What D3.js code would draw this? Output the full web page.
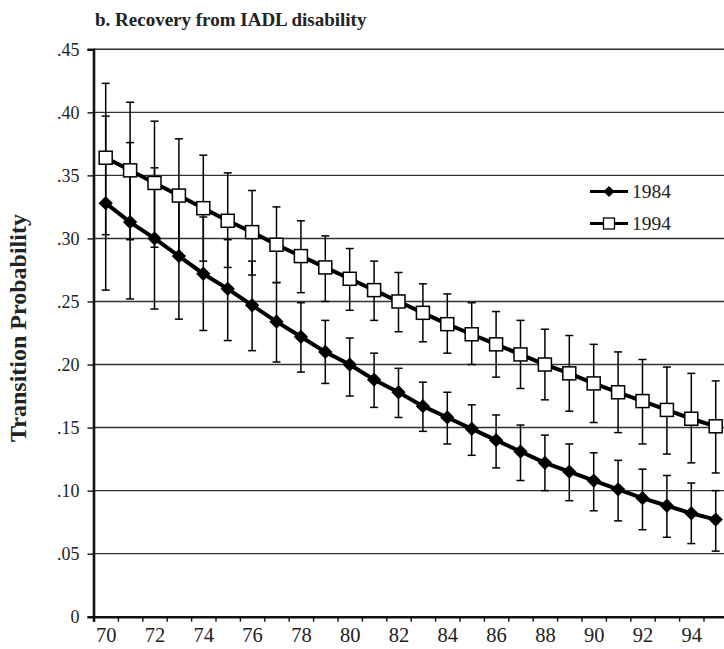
<!DOCTYPE html>
<html>
<head>
<meta charset="utf-8">
<script src="https://cdn.jsdelivr.net/npm/d3@7"></script>
</head>
<body style="margin:0; background:#fff">
<svg id="chart" width="724" height="649"></svg>
<script>
// ages (categories)
var ages = [70, 71, 72, 73, 74, 75, 76, 77, 78, 79, 80, 81, 82, 83, 84, 85, 86, 87, 88, 89, 90, 91, 92, 93, 94, 95];
var xLabels = [70, 72, 74, 76, 78, 80, 82, 84, 86, 88, 90, 92, 94];
var yTicks = [0, .05, .10, .15, .20, .25, .30, .35, .40, .45];
var yLabels = ["0", ".05", ".10", ".15", ".20", ".25", ".30", ".35", ".40", ".45"];

// 1984
var p1984 = [.328, .313, .300, .286, .272, .260, .247, .234, .222, .210, .200, .188, .178, .167, .158, .149, .140, .131, .122, .115, .108, .101, .094, .088, .082, .077];
var lo1984 = [.259, .252, .244, .236, .227, .219, .211, .202, .194, .185, .175, .166, .158, .147, .137, .128, .118, .108, .100, .092, .084, .076, .069, .063, .058, .052];
var hi1984 = [.397, .376, .356, .338, .317, .299, .282, .265, .249, .235, .221, .209, .197, .186, .178, .168, .160, .152, .144, .137, .130, .124, .117, .112, .106, .100];

// 1994
var p1994 = [.364, .354, .344, .334, .324, .314, .305, .295, .286, .277, .268, .259, .250, .241, .232, .224, .216, .208, .200, .193, .185, .178, .171, .164, .157, .151];
var lo1994 = [.303, .299, .293, .288, .282, .277, .271, .265, .257, .250, .243, .235, .226, .218, .209, .200, .190, .181, .172, .163, .154, .146, .137, .129, .122, .114];
var hi1994 = [.423, .408, .393, .379, .366, .352, .338, .325, .314, .302, .292, .282, .273, .264, .256, .249, .242, .235, .228, .223, .216, .210, .204, .198, .193, .187];

var FONT = "Liberation Serif";
var svg = d3.select("#chart")
  .attr("font-family", FONT);

svg.append("rect").attr("width", 724).attr("height", 649).attr("fill", "#fff");

var x = d3.scaleLinear().domain([69.5, 95.5]).range([93.5, 727.9]);
var y = d3.scaleLinear().domain([0, .45]).range([616.7, 49.3]);

// gridlines
svg.append("g").selectAll("line")
  .data(yTicks.filter(function(d) { return d > 0; }))
  .enter().append("line")
    .attr("x1", 94).attr("x2", 724)
    .attr("y1", function(d) { return y(d); })
    .attr("y2", function(d) { return y(d); })
    .attr("stroke", "#333").attr("stroke-width", 1.4);

// title
svg.append("text")
  .attr("x", 95).attr("y", 26)
  .attr("font-family", FONT).attr("font-size", 19).attr("font-weight", "bold")
  .attr("fill", "#222")
  .text("b. Recovery from IADL disability");

svg.append("text")
  .attr("transform", "translate(26,328) rotate(-90)")
  .attr("text-anchor", "middle")
  .attr("font-family", FONT).attr("font-size", 24).attr("font-weight", "bold")
  .attr("fill", "#222")
  .text("Transition Probability");

// y axis
var yAxis = svg.append("g")
  .attr("transform", "translate(93.5,0)")
  .call(d3.axisLeft(y).tickValues(yTicks).tickSize(6).tickPadding(8)
    .tickFormat(function(d, i) { return yLabels[i]; }));
yAxis.attr("font-family", FONT).attr("font-size", 18);
yAxis.select(".domain").attr("stroke", "#111").attr("stroke-width", 2.6);
yAxis.selectAll(".tick line").attr("stroke", "#111").attr("stroke-width", 1.4);
yAxis.selectAll("text").attr("fill", "#222");

// x axis: ticks at category boundaries
var bounds = ages.map(function(a) { return a - 0.5; }).concat([95.5]);
var xAxis = svg.append("g")
  .attr("transform", "translate(0,616.7)")
  .call(d3.axisBottom(x).tickValues(bounds).tickSize(5).tickFormat(""));
xAxis.select(".domain").attr("stroke", "#111").attr("stroke-width", 2.6);
xAxis.selectAll(".tick line").attr("stroke", "#111").attr("stroke-width", 1.4);

var xLab = svg.append("g")
  .attr("transform", "translate(0,616.7)")
  .call(d3.axisBottom(x).tickValues(xLabels).tickSize(0).tickPadding(11));
xLab.attr("font-family", FONT).attr("font-size", 20.5);
xLab.select(".domain").remove();
xLab.selectAll("text").attr("fill", "#222");

function series(vals, lo, hi) {
  return ages.map(function(a, i) { return { age: a, v: vals[i], lo: lo[i], hi: hi[i] }; });
}
var s84 = series(p1984, lo1984, hi1984);
var s94 = series(p1994, lo1994, hi1994);

// error bars
function errorBars(data) {
  var g = svg.append("g").attr("stroke", "#000").attr("stroke-width", 1.5);
  g.selectAll(".bar").data(data).enter().append("line")
    .attr("x1", function(d) { return x(d.age); }).attr("x2", function(d) { return x(d.age); })
    .attr("y1", function(d) { return y(d.lo); }).attr("y2", function(d) { return y(d.hi); });
  ["lo", "hi"].forEach(function(k) {
    g.selectAll(".cap" + k).data(data).enter().append("line")
      .attr("x1", function(d) { return x(d.age) - 4; }).attr("x2", function(d) { return x(d.age) + 4; })
      .attr("y1", function(d) { return y(d[k]); }).attr("y2", function(d) { return y(d[k]); });
  });
}
errorBars(s84);
errorBars(s94);

var line = d3.line().x(function(d) { return x(d.age); }).y(function(d) { return y(d.v); });
[s84, s94].forEach(function(s) {
  svg.append("path").datum(s)
    .attr("d", line).attr("fill", "none")
    .attr("stroke", "#000").attr("stroke-width", 4);
});

var diamond = d3.symbol().type(d3.symbolDiamond2).size(130);
svg.append("g").selectAll("path").data(s84).enter().append("path")
  .attr("transform", function(d) { return "translate(" + x(d.age) + "," + y(d.v) + ")"; })
  .attr("d", diamond).attr("fill", "#000");

svg.append("g").selectAll("rect").data(s94).enter().append("rect")
  .attr("x", function(d) { return x(d.age) - 6.5; })
  .attr("y", function(d) { return y(d.v) - 6.5; })
  .attr("width", 13).attr("height", 13)
  .attr("fill", "#fff").attr("stroke", "#000").attr("stroke-width", 1.5);

// legend
var leg = svg.append("g").attr("font-family", FONT).attr("font-size", 19.5);
leg.append("line").attr("x1", 590).attr("x2", 628).attr("y1", 191.5).attr("y2", 191.5)
  .attr("stroke", "#000").attr("stroke-width", 3);
leg.append("path").attr("transform", "translate(609,191.5)")
  .attr("d", d3.symbol().type(d3.symbolDiamond2).size(80)).attr("fill", "#000");
leg.append("text").attr("x", 632).attr("y", 191.5).attr("dy", "0.35em")
  .attr("fill", "#222").text("1984");
leg.append("line").attr("x1", 590).attr("x2", 628).attr("y1", 223.5).attr("y2", 223.5)
  .attr("stroke", "#000").attr("stroke-width", 3);
leg.append("rect").attr("x", 603.5).attr("y", 218).attr("width", 11).attr("height", 11)
  .attr("fill", "#fff").attr("stroke", "#000").attr("stroke-width", 1.3);
leg.append("text").attr("x", 632).attr("y", 223.5).attr("dy", "0.35em")
  .attr("fill", "#222").text("1994");
</script>
</body>
</html>
